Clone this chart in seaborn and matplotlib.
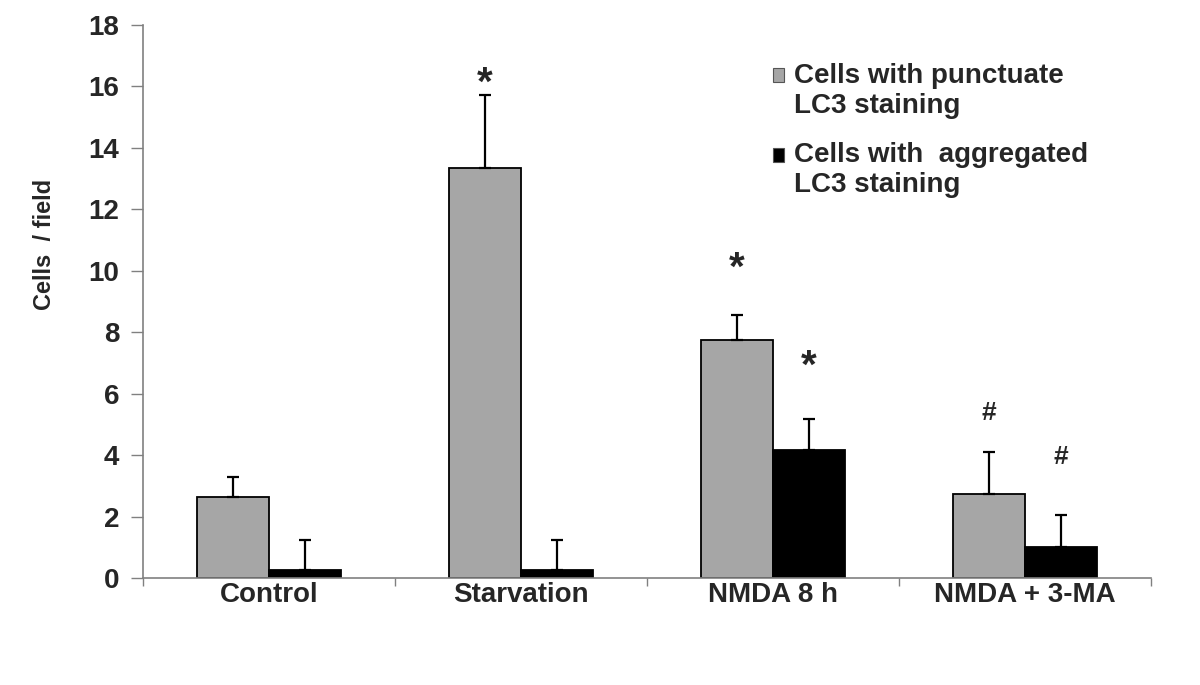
import numpy as np
import pandas as pd
import seaborn as sns
import matplotlib.pyplot as plt
from matplotlib.patches import Patch
from matplotlib.ticker import FixedLocator

# data
groups = ["Control", "Starvation", "NMDA 8 h", "NMDA + 3-MA"]
series = ["Cells with punctuate\nLC3 staining", "Cells with  aggregated\nLC3 staining"]
punctuate = [2.64, 13.35, 7.75, 2.74]
punctuate_err = [0.65, 2.38, 0.82, 1.36]
aggregated = [0.26, 0.26, 4.17, 1.01]
aggregated_err = [0.98, 0.98, 1.01, 1.04]
marks_punctuate = ["", "*", "*", "#"]
marks_aggregated = ["", "", "*", "#"]
# height of the significance marks
marks_punctuate_y = [0, 16.4, 10.36, 5.37]
marks_aggregated_y = [0, 0, 7.17, 3.94]

colors = ["#a6a6a6", "#000000"]

df = pd.DataFrame({
    "group": groups * 2,
    "series": [series[0]] * 4 + [series[1]] * 4,
    "value": punctuate + aggregated,
})

sns.set_style("white")
plt.rcParams["font.family"] = ["Liberation Sans", "DejaVu Sans"]
plt.rcParams["font.weight"] = "bold"

fig = plt.figure(figsize=(12, 6.85), dpi=100)
ax = fig.add_axes([0.119, 0.156, 0.84, 0.8075])

sns.barplot(data=df, x="group", y="value", hue="series", order=groups,
            hue_order=series, palette=colors, edgecolor="black", linewidth=1.3,
            width=0.572, errorbar=None, legend=False, ax=ax)

# upward-only error bars and significance marks
bars = ax.patches
for k, (vals, errs, marks, my) in enumerate([
        (punctuate, punctuate_err, marks_punctuate, marks_punctuate_y),
        (aggregated, aggregated_err, marks_aggregated, marks_aggregated_y)]):
    xs = [p.get_x() + p.get_width() / 2 for p in bars[k * 4:(k + 1) * 4]]
    ax.errorbar(xs, vals, yerr=[np.zeros(len(errs)), errs], fmt="none",
                ecolor="black", elinewidth=1.6, capsize=4.5, capthick=1.6)
    for x, m, y in zip(xs, marks, my):
        if m == "*":
            ax.text(x, y - 0.3, m, ha="center", va="center", fontsize=29,
                    fontweight="bold")
        elif m == "#":
            ax.text(x, y, m, ha="center", va="center", fontsize=19,
                    fontweight="bold")

ax.set_ylim(0, 18)
ax.set_xlim(-0.5, 3.5)
ax.set_yticks(range(0, 19, 2))
ax.set_xlabel("")
ax.set_ylabel("Cells  / field", fontsize=17, fontweight="bold")
ax.yaxis.set_label_coords(-0.086, 0.604)
ax.tick_params(axis="y", length=9, width=1, color="#808080", labelsize=20, pad=8,
               direction="out", left=True)
ax.tick_params(axis="x", which="major", length=0, labelsize=20, pad=3)
ax.xaxis.set_minor_locator(FixedLocator([-0.5, 0.5, 1.5, 2.5, 3.5]))
ax.tick_params(axis="x", which="minor", length=6, width=1, color="#808080",
               direction="out", bottom=True)
for lab in ax.get_xticklabels() + ax.get_yticklabels():
    lab.set_fontweight("bold")

sns.despine(ax=ax)
for s in ["left", "bottom"]:
    ax.spines[s].set_color("#808080")
    ax.spines[s].set_linewidth(1.2)

handles = [Patch(facecolor=c, edgecolor="#555555", linewidth=0.8) for c in colors]
leg = ax.legend(handles, series, loc="upper left", bbox_to_anchor=(0.625, 0.932),
                frameon=False, fontsize=20, handlelength=0.4, handleheight=0.4,
                handletextpad=0.35, labelspacing=0.85, borderpad=0,
                borderaxespad=0)
for t in leg.get_texts():
    t.set_fontweight("bold")
for h in leg.legend_handles:
    h.set_y(h.get_y() + 11)

fig.savefig("out.png", dpi=100)
